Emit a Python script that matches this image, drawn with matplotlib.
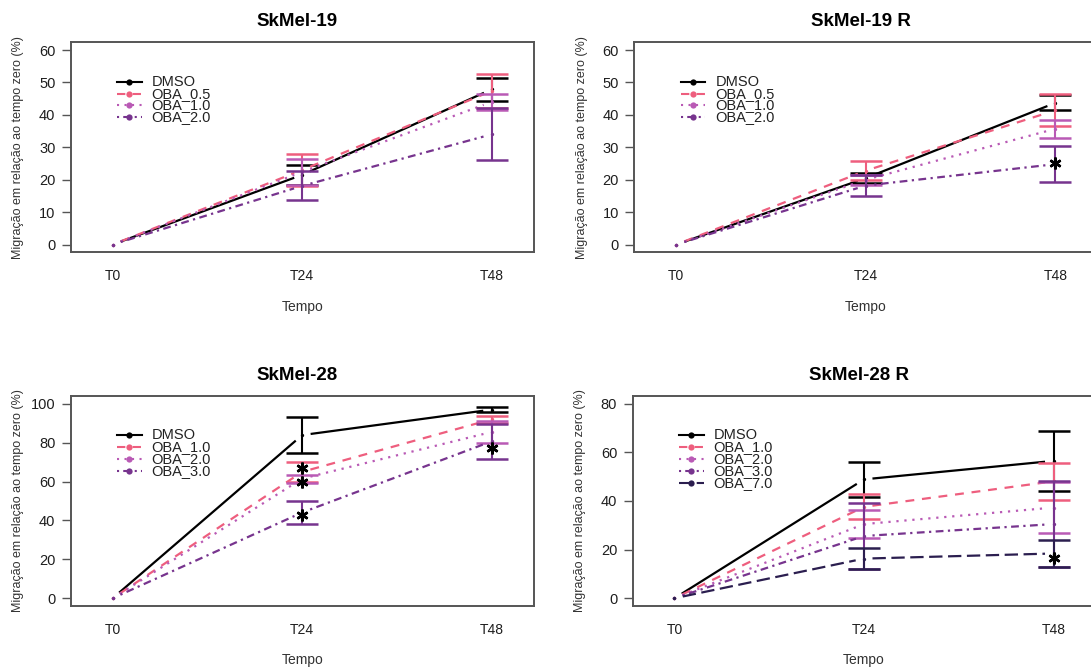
import numpy as np
import matplotlib
matplotlib.use('Agg')
import matplotlib.pyplot as plt

plt.rcParams['font.family'] = ['Liberation Sans', 'DejaVu Sans']

time_labels = ['T0', 'T24', 'T48']

# SkMel-19
sk19_groups = ['DMSO', 'OBA_0.5', 'OBA_1.0', 'OBA_2.0']
sk19_mean = [[0, 21.5, 47.9], [0, 23.0, 47.4], [0, 22.4, 44.0], [0, 18.1, 34.0]]
sk19_err = [[0, 3.0, 3.6], [0, 5.0, 5.2], [0, 3.9, 2.5], [0, 4.5, 8.0]]
sk19_stars = []

# SkMel-19 R
sk19r_groups = ['DMSO', 'OBA_0.5', 'OBA_1.0', 'OBA_2.0']
sk19r_mean = [[0, 20.5, 43.7], [0, 22.8, 41.4], [0, 20.0, 35.7], [0, 18.2, 24.8]]
sk19r_err = [[0, 1.5, 2.3], [0, 3.0, 4.9], [0, 1.5, 2.7], [0, 3.3, 5.5]]
sk19r_stars = [(2, 25.2)]

# SkMel-28
sk28_groups = ['DMSO', 'OBA_1.0', 'OBA_2.0', 'OBA_3.0']
sk28_mean = [[0, 83.9, 97.0], [0, 65.0, 92.0], [0, 61.5, 85.5], [0, 44.1, 80.7]]
sk28_err = [[0, 9.3, 1.2], [0, 5.0, 1.8], [0, 2.0, 5.7], [0, 6.0, 9.0]]
sk28_stars = [(1, 67.0), (1, 60.0), (1, 42.8), (2, 77.0)]

# SkMel-28 R
sk28r_groups = ['DMSO', 'OBA_1.0', 'OBA_2.0', 'OBA_3.0', 'OBA_7.0']
sk28r_mean = [[0, 48.9, 56.5], [0, 37.6, 48.1], [0, 30.5, 37.3], [0, 25.6, 30.5], [0, 16.3, 18.4]]
sk28r_err = [[0, 7.1, 12.4], [0, 5.2, 7.7], [0, 5.9, 10.4], [0, 13.4, 17.7], [0, 4.2, 5.5]]
sk28r_stars = [(2, 16.4)]

colors = ['black', '#EE5E7E', '#B95AB5', '#77348E', '#2B1E4F']
dashes = [None, (4, 3.5), (1, 2.6), (1, 2, 3.5, 2), (6, 2.5)]

W, H = 1091, 669
fig = plt.figure(figsize=(W / 100, H / 100), dpi=100)

FRAME = '#555555'
GAP = 8.5  # px gap around points (R type="b")


def px_axes(left, right, top, bottom):
    return fig.add_axes([left / W, 1 - bottom / H, (right - left) / W, (bottom - top) / H])


def gapped_line(ax, xs, ys, color, dash):
    pts = ax.transData.transform(np.column_stack([xs, ys]))
    inv = ax.transData.inverted()
    for i in range(len(pts) - 1):
        p, q = pts[i], pts[i + 1]
        d = q - p
        L = np.hypot(d[0], d[1])
        if L <= 2 * GAP:
            continue
        u = d / L
        a = inv.transform(p + u * GAP)
        b = inv.transform(q - u * GAP)
        ln, = ax.plot([a[0], b[0]], [a[1], b[1]], color=color, lw=1.6,
                      solid_capstyle='butt', dash_capstyle='butt')
        if dash is not None:
            ln.set_dashes(dash)


def panel(ax, title, groups, means, errs, stars, ymax, ystep):
    x = np.arange(len(time_labels))
    ax.set_xlim(-0.2216, 2.2216)
    pad = ymax * 0.04
    ax.set_ylim(-pad, ymax + pad)

    for i, g in enumerate(groups):
        m = np.array(means[i], dtype=float)
        e = np.array(errs[i], dtype=float)
        gapped_line(ax, x, m, colors[i], dashes[i])
        ax.plot(x, m, 'o', ms=2.4, color=colors[i], mew=0)
        sel = e > 0
        ax.errorbar(x[sel], m[sel], yerr=e[sel], fmt='none', ecolor=colors[i],
                    elinewidth=1.5, capsize=11.3, capthick=1.8)

    for sx, sy in stars:
        ax.plot(sx, sy, marker=(6, 2, 0), ms=8.5, mew=1.8, color='black', ls='none')

    ax.set_xticks(x)
    ax.set_xticklabels(time_labels)
    ax.set_yticks(np.arange(0, ymax + 1, ystep))
    ax.tick_params(axis='x', length=0, pad=12, labelsize=10, labelcolor='#1e1e1e')
    ax.tick_params(axis='y', length=6.5, width=1, color=FRAME, pad=4.5,
                   labelsize=10.5, labelcolor='#1e1e1e')
    for s in ax.spines.values():
        s.set_color(FRAME)
        s.set_linewidth(1.4)

    ax.annotate(title, xy=(0.5, 1), xycoords='axes fraction', xytext=(-3.6, 15.0),
                textcoords='offset points', ha='center', va='center',
                fontsize=13.5, fontweight='bold', color='black')
    ax.annotate('Migração em relação ao tempo zero (%)', xy=(0, 0.5),
                xycoords='axes fraction', xytext=(-37.7, 0), textcoords='offset points',
                ha='center', va='center', rotation=90, fontsize=9, color='#333333')
    ax.annotate('Tempo', xy=(0.5, 0), xycoords='axes fraction', xytext=(0, -39.2),
                textcoords='offset points', ha='center', va='center',
                fontsize=10, color='#333333')

    # legend (no frame), positions in px from the axes' top-left corner
    bw, bh = ax.bbox.width, ax.bbox.height
    for i, g in enumerate(groups):
        fy = 1 - (39.4 + 11.9 * i) / bh
        ln, = ax.plot([46.5 / bw, 71 / bw], [fy, fy], transform=ax.transAxes,
                      color=colors[i], lw=1.5, clip_on=False)
        if dashes[i] is not None:
            ln.set_dashes(dashes[i])
        ax.plot([58.5 / bw], [fy], 'o', ms=4.5, mew=0, color=colors[i],
                transform=ax.transAxes, clip_on=False)
        ax.text(81 / bw, fy, g, transform=ax.transAxes, ha='left', va='center',
                fontsize=10.5, color='#222222')


ax1 = px_axes(70.7, 533.7, 42.3, 252.3)
panel(ax1, 'SkMel-19', sk19_groups, sk19_mean, sk19_err, sk19_stars, 60, 10)
ax2 = px_axes(634.3, 1097.3, 42.3, 252.3)
panel(ax2, 'SkMel-19 R', sk19r_groups, sk19r_mean, sk19r_err, sk19r_stars, 60, 10)
ax3 = px_axes(70.7, 533.7, 396, 606)
panel(ax3, 'SkMel-28', sk28_groups, sk28_mean, sk28_err, sk28_stars, 100, 20)
ax4 = px_axes(632.5, 1095.5, 396, 606)
panel(ax4, 'SkMel-28 R', sk28r_groups, sk28r_mean, sk28r_err, sk28r_stars, 80, 20)

fig.savefig('out.png', dpi=100, facecolor='white')
